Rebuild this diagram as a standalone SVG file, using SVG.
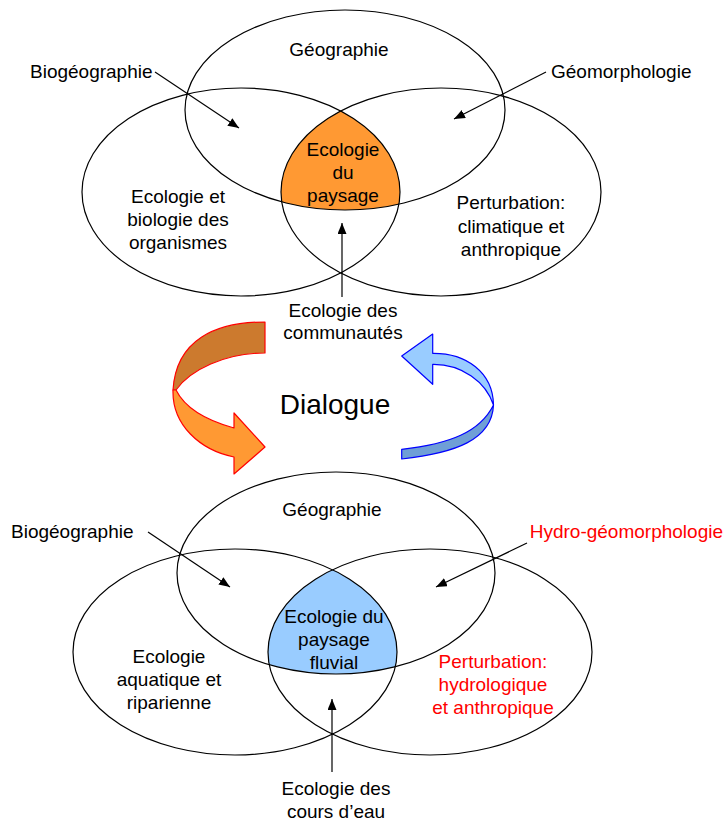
<svg xmlns="http://www.w3.org/2000/svg" width="726" height="823" viewBox="0 0 726 823">
<style>
text{font-family:"Liberation Sans",Arial,sans-serif;font-size:19px;fill:#000}
.c{text-anchor:middle}
.red{fill:#FF0000}
.ell{fill:none;stroke:#000;stroke-width:1.2}
.con{fill:none;stroke:#000;stroke-width:1.2}
.oa{stroke:#FF0000;stroke-width:1.2;stroke-linejoin:round}
.ba{stroke:#0000FF;stroke-width:1.2;stroke-linejoin:round}
</style>
<defs>
<marker id="ah" markerUnits="userSpaceOnUse" markerWidth="11" markerHeight="9" refX="11" refY="4.5" orient="auto">
<path d="M0,0 L11,4.5 L0,9 Z" fill="#000"/>
</marker>
<clipPath id="cl1"><ellipse cx="241" cy="192" rx="159" ry="104"/></clipPath>
<clipPath id="cr1"><ellipse cx="441" cy="192" rx="160" ry="104"/></clipPath>
<clipPath id="cl2"><ellipse cx="235" cy="652" rx="162" ry="103"/></clipPath>
<clipPath id="cr2"><ellipse cx="430" cy="652" rx="162" ry="103"/></clipPath>
</defs>
<rect width="726" height="823" fill="#fff"/>

<!-- Top Venn -->
<g id="top-core">
<g clip-path="url(#cl1)"><g clip-path="url(#cr1)"><ellipse cx="345" cy="110" rx="160" ry="100" fill="#FF9933"/></g></g>
</g>
<g id="top-geographie">
<ellipse class="ell" cx="345" cy="110" rx="160" ry="100"/>
<text class="c" x="339" y="56">Géographie</text>
</g>
<g id="top-ecologie-biologie">
<ellipse class="ell" cx="241" cy="192" rx="159" ry="104"/>
<text class="c" x="178" y="203">Ecologie et</text>
<text class="c" x="178" y="226">biologie des</text>
<text class="c" x="178" y="249">organismes</text>
</g>
<g id="top-perturbation">
<ellipse class="ell" cx="441" cy="192" rx="160" ry="104"/>
<text class="c" x="511" y="209">Perturbation:</text>
<text class="c" x="511" y="233">climatique et</text>
<text class="c" x="511" y="256">anthropique</text>
</g>
<g id="top-ecologie-paysage">
<text class="c" x="343" y="156">Ecologie</text>
<text class="c" x="343" y="179">du</text>
<text class="c" x="343" y="202">paysage</text>
</g>
<g id="top-biogeographie"><text x="30" y="78">Biogéographie</text></g>
<g id="top-geomorphologie"><text x="551" y="78">Géomorphologie</text></g>
<g id="top-communautes">
<text class="c" x="343" y="317">Ecologie des</text>
<text class="c" x="343" y="339">communautés</text>
</g>

<!-- Dialogue -->
<g id="dialogue"><text class="c" x="335" y="414" style="font-size:28px">Dialogue</text></g>
<g id="orange-arrow">
<path class="oa" fill="#CC7A2E" d="M265,322 C215,322 176,340 173,390 L176,390 C190,370 225,353 265,353 Z"/>
<path class="oa" fill="#FF9933" d="M173,390 C172,425 200,450 234,457 L234,474 L265,447 L234,413 L234,428 C205,420 185,408 176,390 Z"/>
</g>
<g id="blue-arrow">
<path class="ba" fill="#6F9FD6" d="M493.5,405 C492,440 455,453 401.7,459 L401.7,449.3 C450,444 480,432 493.5,405 Z"/>
<path class="ba" fill="#99CCFF" d="M432.7,334 L401.7,356 L432.7,384.3 L432.7,364.3 C462,364 486,382 493.5,405 C493,372 466,353 432.7,353.3 Z"/>
</g>

<!-- Bottom Venn -->
<g id="bottom-core">
<g clip-path="url(#cl2)"><g clip-path="url(#cr2)"><ellipse cx="336" cy="573" rx="159" ry="101" fill="#99CCFF"/></g></g>
</g>
<g id="bottom-geographie">
<ellipse class="ell" cx="336" cy="573" rx="159" ry="101"/>
<text class="c" x="332" y="516">Géographie</text>
</g>
<g id="bottom-ecologie-aquatique">
<ellipse class="ell" cx="235" cy="652" rx="162" ry="103"/>
<text class="c" x="169" y="663">Ecologie</text>
<text class="c" x="169" y="686">aquatique et</text>
<text class="c" x="169" y="709">riparienne</text>
</g>
<g id="bottom-perturbation">
<ellipse class="ell" cx="430" cy="652" rx="162" ry="103"/>
<text class="c red" x="493" y="668">Perturbation:</text>
<text class="c red" x="493" y="691">hydrologique</text>
<text class="c red" x="493" y="714">et anthropique</text>
</g>
<g id="bottom-ecologie-paysage-fluvial">
<text class="c" x="334" y="623">Ecologie du</text>
<text class="c" x="334" y="646">paysage</text>
<text class="c" x="334" y="669">fluvial</text>
</g>
<g id="bottom-biogeographie"><text x="11" y="538">Biogéographie</text></g>
<g id="bottom-hydro"><text class="red" x="723" y="538" text-anchor="end">Hydro-géomorphologie</text></g>
<g id="bottom-cours-eau">
<text class="c" x="336" y="795">Ecologie des</text>
<text class="c" x="336" y="818">cours d’eau</text>
</g>

<g id="connectors">
<line class="con" x1="155" y1="72" x2="239" y2="128" marker-end="url(#ah)"/>
<line class="con" x1="546" y1="72" x2="454" y2="119" marker-end="url(#ah)"/>
<line class="con" x1="342" y1="297" x2="342" y2="223" marker-end="url(#ah)"/>
<line class="con" x1="148" y1="532" x2="230" y2="587" marker-end="url(#ah)"/>
<line class="con" x1="527" y1="543" x2="436" y2="587" marker-end="url(#ah)"/>
<line class="con" x1="332" y1="772" x2="332" y2="699" marker-end="url(#ah)"/>
</g>
</svg>
